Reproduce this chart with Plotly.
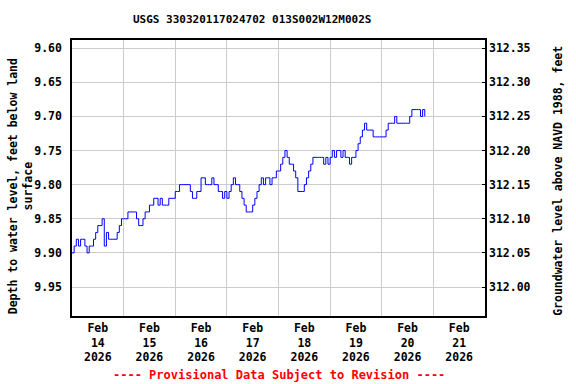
import plotly.graph_objects as go
import pandas as pd

# Hourly water-level readings (depth below land surface, ft), starting 2026-02-14 00:00
start_time = "2026-02-14 00:00"
depth_ft = [
    # Feb 14
    9.90, 9.89, 9.88, 9.89, 9.88, 9.88, 9.89, 9.90, 9.89, 9.89, 9.88, 9.87,
    9.86, 9.86, 9.85, 9.89, 9.87, 9.88, 9.88, 9.88, 9.88, 9.87, 9.86, 9.85,
    # Feb 15
    9.85, 9.85, 9.84, 9.84, 9.84, 9.84, 9.85, 9.86, 9.86, 9.85, 9.84, 9.84,
    9.83, 9.83, 9.82, 9.82, 9.83, 9.82, 9.83, 9.83, 9.83, 9.82, 9.82, 9.82,
    # Feb 16
    9.81, 9.81, 9.80, 9.80, 9.80, 9.80, 9.80, 9.81, 9.82, 9.82, 9.81, 9.81,
    9.79, 9.79, 9.80, 9.80, 9.80, 9.79, 9.80, 9.80, 9.81, 9.81, 9.82, 9.81,
    # Feb 17
    9.82, 9.81, 9.80, 9.79, 9.80, 9.80, 9.81, 9.82, 9.83, 9.84, 9.84, 9.84,
    9.83, 9.82, 9.81, 9.80, 9.79, 9.80, 9.79, 9.79, 9.80, 9.79, 9.79, 9.78,
    # Feb 18
    9.78, 9.77, 9.76, 9.75, 9.76, 9.77, 9.77, 9.78, 9.79, 9.81, 9.81, 9.81,
    9.80, 9.79, 9.78, 9.77, 9.76, 9.76, 9.76, 9.76, 9.76, 9.77, 9.76, 9.77,
    # Feb 19
    9.76, 9.75, 9.76, 9.75, 9.75, 9.76, 9.75, 9.76, 9.76, 9.77, 9.76, 9.76,
    9.75, 9.74, 9.73, 9.72, 9.71, 9.72, 9.72, 9.72, 9.73, 9.73, 9.73, 9.73,
    # Feb 20
    9.73, 9.73, 9.72, 9.71, 9.71, 9.71, 9.70, 9.71, 9.71, 9.71, 9.71, 9.71,
    9.71, 9.70, 9.69, 9.69, 9.69, 9.69, 9.70, 9.69, 9.70,
]
land_surface_elev = 321.95  # ft above NAVD 1988

day_labels = ["Feb<br>14<br>2026", "Feb<br>15<br>2026", "Feb<br>16<br>2026", "Feb<br>17<br>2026",
              "Feb<br>18<br>2026", "Feb<br>19<br>2026", "Feb<br>20<br>2026", "Feb<br>21<br>2026"]
left_ticks = [9.60, 9.65, 9.70, 9.75, 9.80, 9.85, 9.90, 9.95]
right_ticks = [312.00, 312.05, 312.10, 312.15, 312.20, 312.25, 312.30, 312.35]

times = pd.date_range(start_time, periods=len(depth_ft), freq="h")
elev = [land_surface_elev - d for d in depth_ft]

day_starts = pd.date_range("2026-02-14", periods=9, freq="D")
day_noons = pd.date_range("2026-02-14 12:00", periods=8, freq="D")

depth_range = [9.9925, 9.588]
elev_range = [land_surface_elev - depth_range[0], land_surface_elev - depth_range[1]]

FONT = "DejaVu Sans Mono"
fig = go.Figure()
fig.add_trace(go.Scatter(x=times, y=depth_ft, mode="lines", line=dict(color="#0000ff", width=1, shape="hv"),
                         showlegend=False))
fig.add_trace(go.Scatter(x=times, y=elev, mode="lines", line=dict(color="rgba(0,0,0,0)", width=0),
                         yaxis="y2", showlegend=False, hoverinfo="skip"))

fig.update_layout(
    width=576, height=384,
    margin=dict(l=72, r=91, t=40, b=68, autoexpand=False),
    paper_bgcolor="white", plot_bgcolor="white",
    font=dict(family=FONT, size=11.5, color="black", weight=700),
    xaxis=dict(
        range=[day_starts[0], day_starts[-1]],
        tickmode="array", tickvals=list(day_noons), ticktext=day_labels,
        showgrid=False, ticks="", showline=True, linecolor="black", linewidth=1.5, mirror=True,
        tickfont=dict(family=FONT, size=11.5, weight=700),
        minor=dict(tickmode="array", tickvals=list(day_starts), showgrid=True,
                   gridcolor="#cccccc", gridwidth=1, ticks=""),
        zeroline=False, automargin=False,
    ),
    yaxis=dict(
        range=depth_range, tickmode="array", tickvals=left_ticks,
        ticktext=[f"{v:.2f}" for v in left_ticks],
        showgrid=True, gridcolor="#cccccc", gridwidth=1,
        showline=True, linecolor="black", linewidth=1.5, mirror=True,
        ticks="", ticklabelstandoff=6, zeroline=False, automargin=False,
    ),
    yaxis2=dict(
        range=elev_range, overlaying="y", side="right", tickmode="array", tickvals=right_ticks,
        ticktext=[f"{v:.2f}" for v in right_ticks],
        showgrid=False, ticks="inside", ticklen=3, tickcolor="black", zeroline=False,
        ticklabelstandoff=3, automargin=False,
    ),
    annotations=[
        dict(text="USGS 330320117024702 013S002W12M002S", xref="paper", yref="paper",
             x=0.436, y=1.0725, xanchor="center", yanchor="middle", showarrow=False,
             font=dict(family=FONT, size=11, weight=700, color="black")),
        dict(text="---- Provisional Data Subject to Revision ----", xref="paper", yref="paper",
             x=0.5, y=-0.214, xanchor="center", yanchor="middle", showarrow=False,
             font=dict(family=FONT, size=12, weight=700, color="red")),
        dict(text="Depth to water level, feet below land<br>surface", xref="paper", yref="paper",
             x=-0.126, y=0.47, xanchor="center", yanchor="middle", textangle=-90, showarrow=False,
             font=dict(family=FONT, size=11.5, weight=700, color="black")),
        dict(text="Groundwater level above NAVD 1988, feet", xref="paper", yref="paper",
             x=1.177, y=0.49, xanchor="center", yanchor="middle", textangle=-90, showarrow=False,
             font=dict(family=FONT, size=11.5, weight=700, color="black")),
    ],
)

fig.write_html("out.html", config={"displayModeBar": False},
               post_script="document.body.style.margin='0px';document.body.style.padding='0px';")
